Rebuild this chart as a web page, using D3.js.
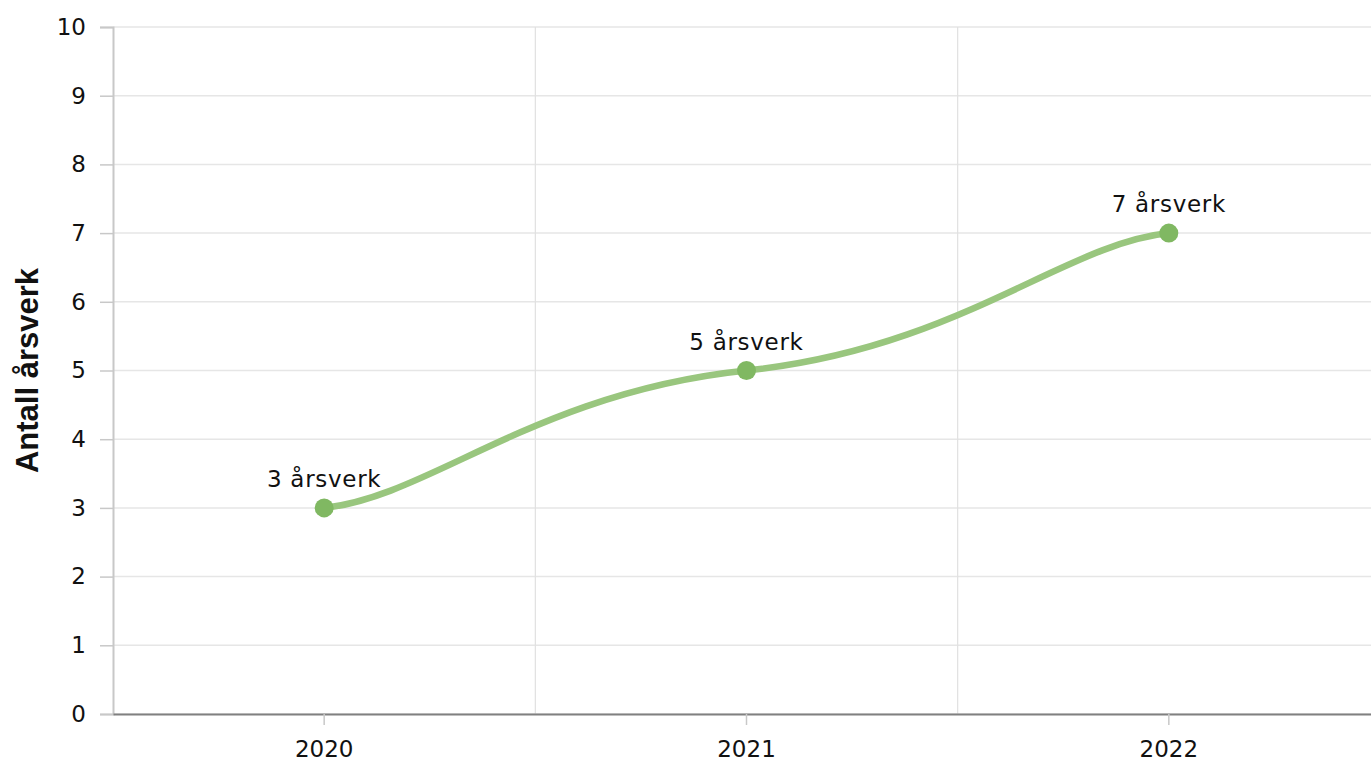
<!DOCTYPE html>
<html><head><meta charset="utf-8">
<script src="https://cdn.jsdelivr.net/npm/d3@7"></script>
<style>
body{margin:0;background:#fff;}
svg{display:block;font-family:"DejaVu Sans",Verdana,sans-serif;}
</style></head>
<body><svg id="c" width="1371" height="765"></svg>
<script>
const categories = ["2020","2021","2022"];
const values = [3,5,7];
const dataLabels = ["3 årsverk","5 årsverk","7 årsverk"];
const yTicks = [0,1,2,3,4,5,6,7,8,9,10];
const yTitle = "Antall årsverk";

const svg = d3.select("#c");
const L = 113, R = 1380, T = 27, B = 714;
const x = d3.scaleBand().domain(categories).range([L, R]).padding(0);
const y = d3.scaleLinear().domain([0,10]).range([B, T]);

// horizontal grid
svg.append("g").selectAll("line").data(yTicks).join("line")
  .attr("x1", L).attr("x2", 1371).attr("y1", d=>y(d)).attr("y2", d=>y(d))
  .attr("stroke", "#e6e6e6").attr("stroke-width", 1.5);
// vertical grid at band boundaries
svg.append("g").selectAll("line").data(categories.slice(1)).join("line")
  .attr("x1", d=>x(d)).attr("x2", d=>x(d)).attr("y1", T).attr("y2", B)
  .attr("stroke", "#e0e0e0").attr("stroke-width", 1.2);

// y axis
const ya = svg.append("g").attr("transform", `translate(${L},0)`)
  .call(d3.axisLeft(y).tickValues(yTicks).tickSize(13).tickPadding(14));
ya.select(".domain").attr("stroke", "#c8c8c8").attr("stroke-width", 2);
ya.selectAll(".tick line").attr("stroke", "#c8c8c8").attr("stroke-width", 1.5);
ya.selectAll(".tick text").attr("font-family", "DejaVu Sans").attr("font-size", 23).attr("fill", "#111");

// x axis
const xa = svg.append("g").attr("transform", `translate(0,${B})`)
  .call(d3.axisBottom(x).tickSize(11).tickPadding(16).tickSizeOuter(0));
xa.select(".domain").attr("stroke", "#808080").attr("stroke-width", 2);
xa.selectAll(".tick line").attr("stroke", "#c8c8c8").attr("stroke-width", 1.5);
xa.selectAll(".tick text").attr("font-family", "DejaVu Sans").attr("font-size", 23).attr("fill", "#111");

// axis title
svg.append("text").attr("transform", `translate(38,${(T+B)/2}) rotate(-90)`)
  .attr("text-anchor", "middle").attr("font-family", "Liberation Sans, Arial, sans-serif")
  .attr("font-weight", "bold").attr("font-size", 31).attr("fill", "#111").text(yTitle);

// tension-smoothed line (separate x / y tension)
const pts = categories.map((c,i)=>({x: x(c)+x.bandwidth()/2, y: y(values[i])}));
const tx = 0.25, ty = 0.08;
const path = d3.path();
path.moveTo(pts[0].x, pts[0].y);
for (let i=0;i<pts.length-1;i++){
  const p1 = pts[i], p2 = pts[i+1];
  const p0 = i===0 ? p1 : pts[i-1];
  const p3 = i===pts.length-2 ? p2 : pts[i+2];
  path.bezierCurveTo(
    p1.x + tx*(p2.x-p0.x), p1.y + ty*(p2.y-p0.y),
    p2.x - tx*(p3.x-p1.x), p2.y - ty*(p3.y-p1.y),
    p2.x, p2.y);
}
svg.append("path").attr("d", path.toString()).attr("fill","none")
  .attr("stroke", "#99c67e").attr("stroke-width", 6.5).attr("stroke-linecap","round");

svg.append("g").selectAll("circle").data(pts).join("circle")
  .attr("cx", d=>d.x).attr("cy", d=>d.y).attr("r", 9.5).attr("fill", "#80b862");

svg.append("g").selectAll("text").data(pts).join("text")
  .attr("x", d=>d.x).attr("y", d=>d.y-21).attr("text-anchor","middle")
  .attr("font-family","DejaVu Sans").attr("font-size", 23).attr("letter-spacing", 0.7).attr("fill","#111")
  .text((d,i)=>dataLabels[i]);
</script></body></html>
